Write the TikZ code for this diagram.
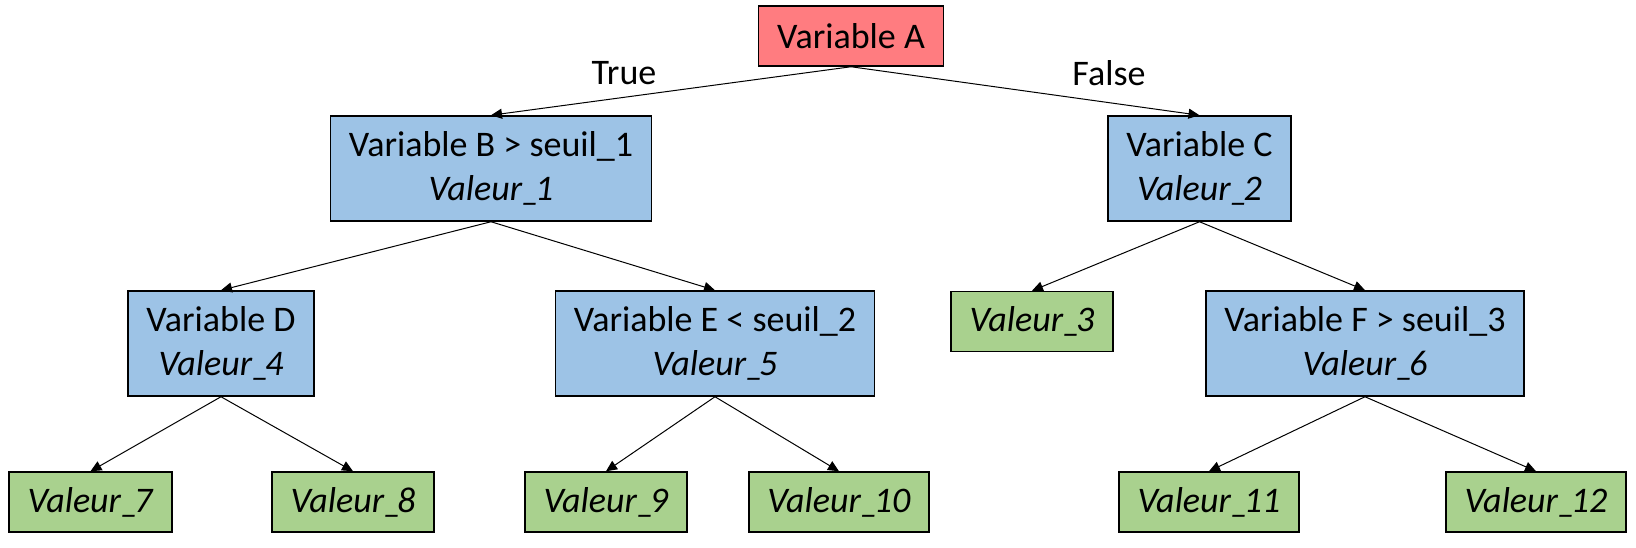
\documentclass[tikz,border=0pt]{standalone}
\usepackage{fontspec}
\setmainfont{Carlito}
\usetikzlibrary{arrows.meta}
\definecolor{rootred}{HTML}{FF7C80}
\definecolor{splitblue}{HTML}{9DC3E6}
\definecolor{leafgreen}{HTML}{A9D18E}
\newcommand{\valeur}[1]{\textit{Valeur\_\kern-5pt#1}}
\tikzset{
  box/.style={draw,line width=1.5pt,inner xsep=18.5pt,inner ysep=0pt,align=center,
    font=\fontsize{36}{44}\selectfont},
  rootbox/.style={box,fill=rootred,minimum height=60pt},
  splitbox/.style={box,fill=splitblue,minimum height=105pt},
  leafbox/.style={box,fill=leafgreen,minimum height=60pt},
  edge/.style={line width=1pt,-{Triangle[length=11pt,width=10pt]}}
}
\begin{document}
\begin{tikzpicture}[x=1pt,y=-1pt]
      \useasboundingbox (0,0) rectangle (1636,548);
      \node[rootbox] (A) at (851,36) {Variable A};
      \node[splitbox] (B) at (491,168.5) {Variable B > seuil\_1\\\valeur{1}};
      \node[splitbox] (C) at (1199.5,168.5) {Variable C\\\valeur{2}};
      \node[splitbox] (D) at (221,343.5) {Variable D\\\valeur{4}};
      \node[splitbox] (E) at (715,343.5) {Variable E < seuil\_2\\\valeur{5}};
      \node[leafbox] (V3) at (1032,321.5) {\valeur{3}};
      \node[splitbox] (F) at (1365,343.5) {Variable F > seuil\_3\\\valeur{6}};
      \foreach \name/\x/\num in {%
        V7/90.5/7,
        V8/353/8,
        V9/606/9,
        V10/839/10,
        V11/1209/11,
        V12/1536/12}{%
          \node[leafbox] (\name) at (\x,502) {\valeur{\num}};
        }
      \draw[edge] (A.south)--(B.north);
      \draw[edge] (A.south)--(C.north);
      \foreach \from/\to in {B/D,B/E,C/V3,C/F,D/V7,D/V8,E/V9,E/V10,F/V11,F/V12}{%
          \draw[edge] (\from.south)--(\to.north);
        }
      \node[font=\fontsize{36}{44}\selectfont] (ltrue) at (624,73) {True};
      \node[font=\fontsize{36}{44}\selectfont] (lfalse) at (1109,73) {False};
\end{tikzpicture}
\end{document}
